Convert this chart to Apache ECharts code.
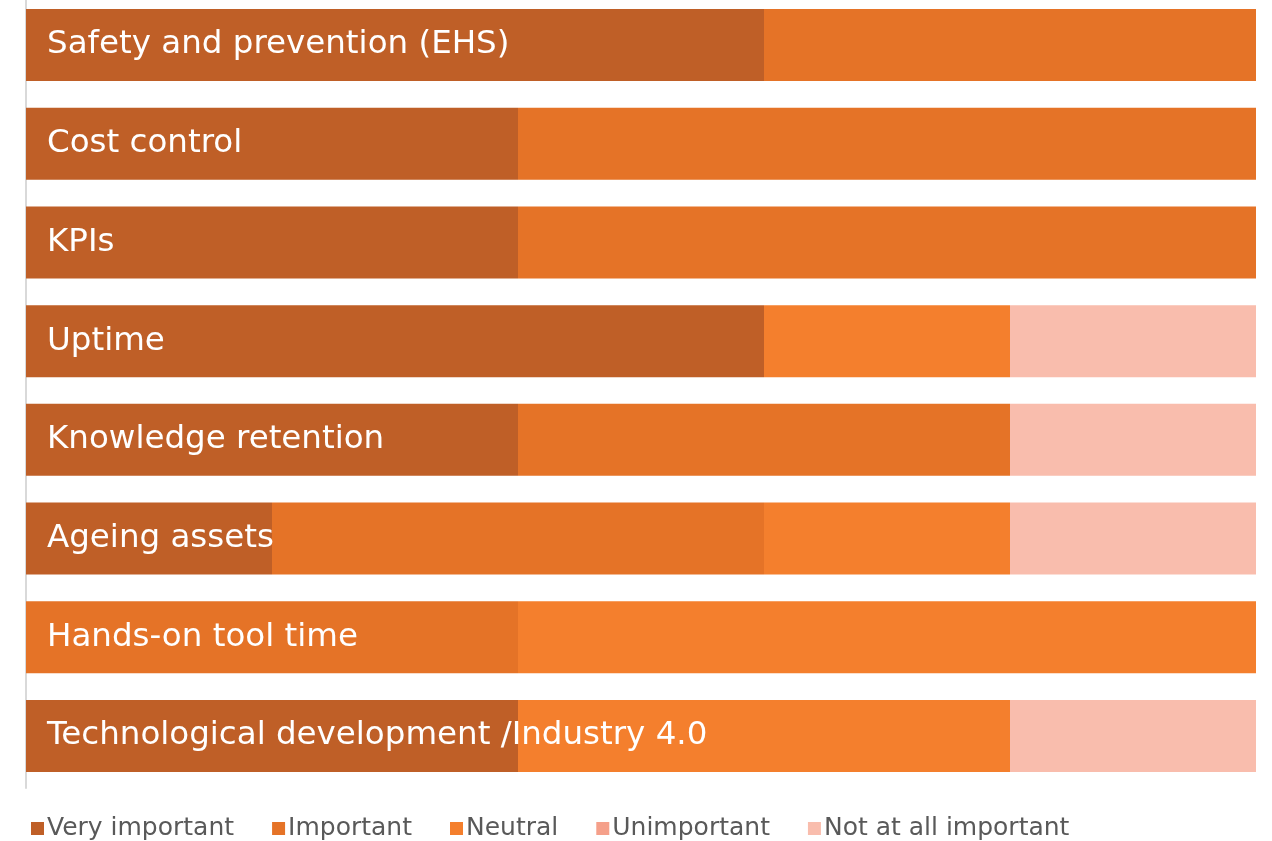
<!DOCTYPE html>
<html>
<head>
<meta charset="utf-8">
<script src="https://cdn.jsdelivr.net/npm/echarts@6/dist/echarts.min.js"></script>
<style>html,body{margin:0;padding:0;background:#fff}#c{width:1272px;height:841px}</style>
</head>
<body>
<div id="c"></div>
<script>
const categories = ["Safety and prevention (EHS)", "Cost control", "KPIs", "Uptime", "Knowledge retention", "Ageing assets", "Hands-on tool time", "Technological development /Industry 4.0"];
const seriesNames = ["Very important", "Important", "Neutral", "Unimportant", "Not at all important"];
const veryImportant = [60, 40, 40, 60, 40, 20, 0, 40];
const important = [40, 60, 60, 0, 40, 40, 40, 0];
const neutral = [0, 0, 0, 20, 0, 20, 60, 40];
const unimportant = [0, 0, 0, 0, 0, 0, 0, 0];
const notAtAll = [0, 0, 0, 20, 20, 20, 0, 20];
const colors = ["#BF5F27", "#E57327", "#F47F2D", "#F5A08A", "#F9BDAD"];

const values = [veryImportant, important, neutral, unimportant, notAtAll];
const chart = echarts.init(document.getElementById('c'));
chart.setOption({
  animation: false,
  textStyle: { fontFamily: 'DejaVu Sans' },
  grid: [
    { left: 26, right: 16, top: 45, bottom: 105 },
    { left: 26, right: 16, top: 0, bottom: 53 }
  ],
  xAxis: [
    { type: 'value', min: 0, max: 100, show: false, gridIndex: 0 },
    { type: 'value', min: 0, max: 100, show: false, gridIndex: 1 }
  ],
  yAxis: [
    {
      type: 'category', data: categories, inverse: true, z: 10, gridIndex: 0,
      boundaryGap: false,
      axisLine: { show: false },
      axisTick: { show: false },
      splitLine: { show: false },
      axisLabel: { inside: true, margin: 21, color: '#fff', fontSize: 32.5, fontFamily: 'DejaVu Sans', padding: [0, 0, 3, 0] }
    },
    {
      type: 'category', data: categories, inverse: true, gridIndex: 1,
      axisLine: { show: true, lineStyle: { color: '#d9d9d9', width: 2 } },
      axisTick: { show: false },
      axisLabel: { show: false },
      splitLine: { show: false }
    }
  ],
  legend: {
    top: 811, left: 26, itemWidth: 13, itemHeight: 13, itemGap: 38,
    icon: 'rect',
    textStyle: { color: '#595959', fontSize: 25, fontFamily: 'DejaVu Sans', padding: [0, 0, 0, -2] },
    data: seriesNames
  },
  series: seriesNames.map((n, i) => ({
    name: n, type: 'bar', stack: 'all', data: values[i],
    xAxisIndex: 0, yAxisIndex: 0,
    barWidth: 72, itemStyle: { color: colors[i] }
  }))
});
</script>
</body>
</html>
